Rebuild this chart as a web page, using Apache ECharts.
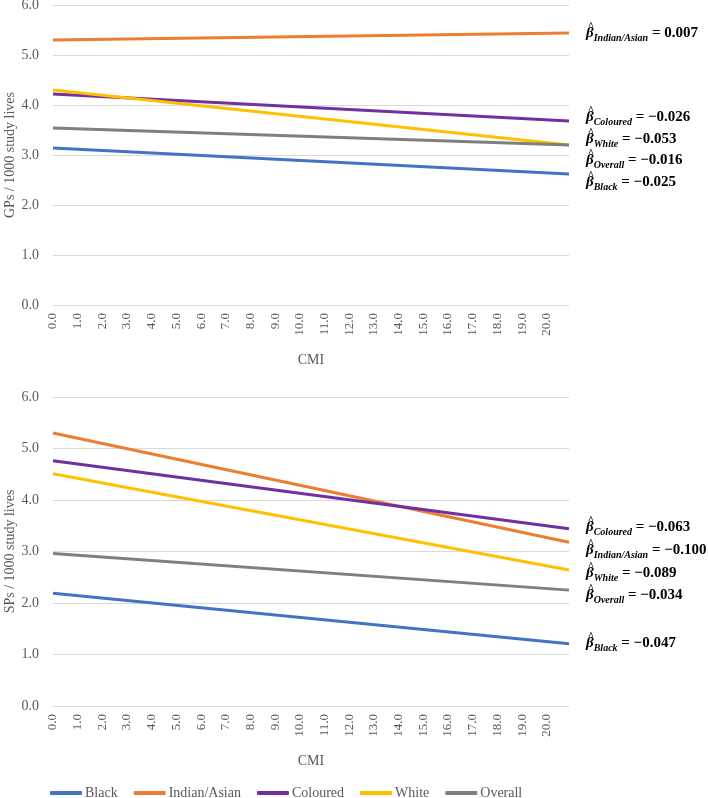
<!DOCTYPE html>
<html><head><meta charset="utf-8">
<script src="https://cdn.jsdelivr.net/npm/echarts@6/dist/echarts.min.js"></script>
<style>html,body{margin:0;padding:0;background:#fff}#c{width:708px;height:798px}</style>
</head><body><div id="c"></div>
<script>
const groups = ['Black', 'Indian/Asian', 'Coloured', 'White', 'Overall'];
const colors = ['#4472C4', '#ED7D31', '#7030A0', '#FFC000', '#7F7F7F'];
const cmiEnds = [0, 20.9];
const gpStart = [3.14, 5.30, 4.22, 4.30, 3.54];
const gpEnd = [2.62, 5.44, 3.68, 3.20, 3.20];
const spStart = [2.19, 5.30, 4.76, 4.51, 2.96];
const spEnd = [1.21, 3.18, 3.44, 2.64, 2.25];
const gpBeta = ['−0.025', '0.007', '−0.026', '−0.053', '−0.016'];
const spBeta = ['−0.047', '−0.100', '−0.063', '−0.089', '−0.034'];
const yTitles = ['GPs / 1000 study lives', 'SPs / 1000 study lives'];
const xTitle = 'CMI';

const gpLabelY = [182, 33, 117, 139, 160];
const spLabelY = [643, 550, 527, 573, 595];

const SERIF = '"Liberation Serif", "Times New Roman", serif';
const GREY = '#595959';

function xAxis(gi) {
  return {
    type: 'value', gridIndex: gi, min: cmiEnds[0], max: cmiEnds[1], interval: 1,
    name: xTitle, nameLocation: 'middle', nameGap: 48, nameMoveOverlap: false,
    nameTextStyle: { fontFamily: SERIF, fontSize: 14, color: GREY },
    axisLine: { show: false }, axisTick: { show: false }, splitLine: { show: false },
    axisLabel: { rotate: 90, margin: 8, fontFamily: SERIF, fontSize: 13, color: GREY,
      showMaxLabel: false, formatter: v => v.toFixed(1) }
  };
}
function yAxis(gi) {
  return {
    type: 'value', gridIndex: gi, min: 0, max: 6, interval: 1,
    name: yTitles[gi], nameLocation: 'middle', nameGap: 36, nameMoveOverlap: false,
    nameTextStyle: { fontFamily: SERIF, fontSize: 14, color: GREY },
    axisLine: { show: false }, axisTick: { show: false },
    splitLine: { lineStyle: { color: '#D9D9D9', width: 1 } },
    axisLabel: { margin: 14, fontFamily: SERIF, fontSize: 14, color: GREY, formatter: v => v.toFixed(1) }
  };
}

const series = [];
[[gpStart, gpEnd], [spStart, spEnd]].forEach((pair, gi) => {
  groups.forEach((g, i) => {
    series.push({
      name: g, type: 'line', xAxisIndex: gi, yAxisIndex: gi, symbol: 'none', silent: true,
      lineStyle: { width: 3, color: colors[i] }, itemStyle: { color: colors[i] },
      data: [[cmiEnds[0], pair[0][i]], [cmiEnds[1], pair[1][i]]]
    });
  });
});

const rich = {
  b: { fontFamily: SERIF, fontStyle: 'italic', fontWeight: 'bold', fontSize: 15, color: '#000', lineHeight: 20, verticalAlign: 'middle' },
  s: { fontFamily: SERIF, fontStyle: 'italic', fontWeight: 'bold', fontSize: 10, color: '#000', lineHeight: 20, verticalAlign: 'bottom' },
  t: { fontFamily: SERIF, fontWeight: 'bold', fontSize: 15, color: '#000', lineHeight: 20, verticalAlign: 'middle' }
};
const graphics = [];
function addLabels(betas, ys) {
  groups.forEach((g, i) => {
    graphics.push({
      type: 'text', x: 586, y: ys[i],
      style: { text: '{b|β}{s|' + g + '}{t| = ' + betas[i] + '}', rich: rich, verticalAlign: 'middle', align: 'left' }
    });
    graphics.push({
      type: 'text', x: 588, y: ys[i] - 7,
      style: { text: '^', fontFamily: SERIF, fontWeight: 'bold', fontSize: 10, fill: '#000', verticalAlign: 'middle', align: 'left' }
    });
  });
}
addLabels(gpBeta, gpLabelY);
addLabels(spBeta, spLabelY);

const chart = echarts.init(document.getElementById('c'));
chart.setOption({
  animation: false,
  backgroundColor: '#fff',
  grid: [
    { left: 53, right: 139, top: 5, height: 300, containLabel: false, outerBoundsMode: 'none' },
    { left: 53, right: 139, top: 397, height: 309, containLabel: false, outerBoundsMode: 'none' }
  ],
  xAxis: [xAxis(0), xAxis(1)],
  yAxis: [yAxis(0), yAxis(1)],
  legend: {
    data: groups, left: 50, top: 786, padding: 0, icon: 'roundRect', itemWidth: 32, itemHeight: 4, itemGap: 16,
    selectedMode: false,
    textStyle: { fontFamily: SERIF, fontSize: 14, color: GREY, padding: [0, 0, 0, -2] }
  },
  series: series,
  graphic: graphics
});
</script></body></html>
